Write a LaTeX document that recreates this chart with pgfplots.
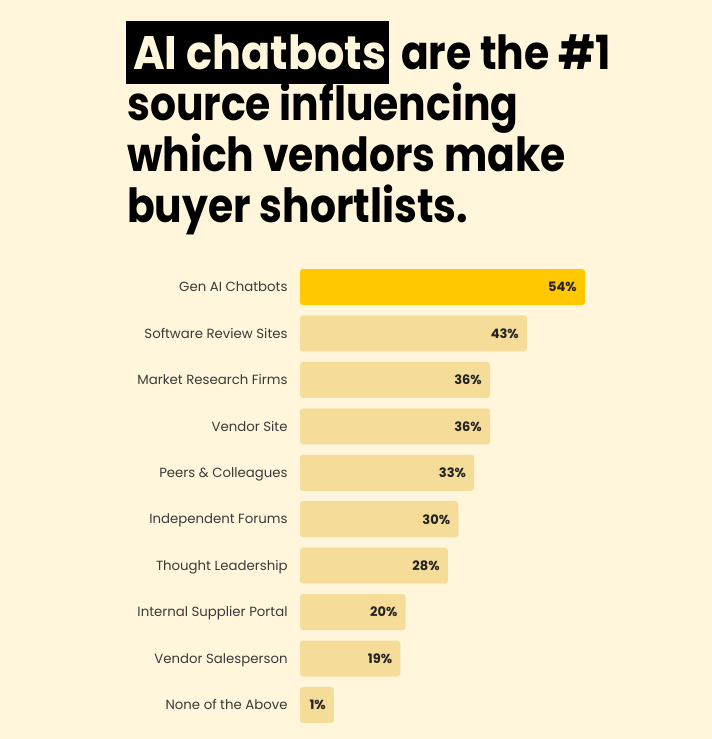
\documentclass[border=0pt]{standalone}
\usepackage{pgfplots}
\pgfplotsset{compat=1.18}
\usepackage{pgfplotstable}
\usepackage{fontspec}
\setmainfont{Poppins}
\newfontfamily\titlefont{Poppins}[FakeStretch=0.87]
\newfontfamily\hlfont{Poppins}[FakeStretch=0.915]
\definecolor{bg}{HTML}{FFF6DB}
\definecolor{gold}{HTML}{FFC800}
\definecolor{pale}{HTML}{F5DC98}
\definecolor{labelgray}{HTML}{3A3A3A}
\definecolor{valtext}{HTML}{222222}
\pgfplotstableread{
y len val
0 54 54
}\tabA
\pgfplotstableread{
y len val
1 43 43
2 36 36
3 36 36
4 33 33
5 30 30
6 28 28
7 20 20
8 19 19
9 6.44 1
}\tabB
\begin{document}
\begin{tikzpicture}
\useasboundingbox (0,0) rectangle (712pt,739pt);
\fill[bg] (0,0) rectangle (712pt,739pt);
% title
\fill[black] (126pt,655pt) rectangle (389pt,718pt);
\node[anchor=base west, inner sep=0pt, text=bg, font=\hlfont\bfseries\fontsize{47}{51}\selectfont] at (133pt,669pt) {AI chatbots};
\node[anchor=base west, inner sep=0pt, font=\titlefont\bfseries\fontsize{47}{51}\selectfont] at (401pt,669pt) {are the \#1};
\node[anchor=base west, inner sep=0pt, font=\titlefont\bfseries\fontsize{47}{51}\selectfont] at (127pt,618pt) {source influencing};
\node[anchor=base west, inner sep=0pt, font=\titlefont\bfseries\fontsize{47}{51}\selectfont] at (127pt,567pt) {which vendors make};
\node[anchor=base west, inner sep=0pt, font=\titlefont\bfseries\fontsize{47}{51}\selectfont] at (127pt,516pt) {buyer shortlists.};
\begin{axis}[
  at={(300pt,475.2pt)}, anchor=north west,
  scale only axis, width=285pt, height=464.4pt,
  xmin=0, xmax=54, ymin=-0.5, ymax=9.5, y dir=reverse,
  xbar, bar width=36pt, bar shift=0pt,
  axis line style={draw=none}, tick style={draw=none},
  xtick=\empty, ytick={0,...,9},
  yticklabels={Gen AI Chatbots, Software Review Sites, Market Research Firms, Vendor Site, Peers \& Colleagues, Independent Forums, Thought Leadership, Internal Supplier Portal, Vendor Salesperson, None of the Above},
  typeset ticklabels with strut,
  yticklabel style={font=\fontsize{13.3}{16}\selectfont, text=labelgray, inner xsep=0pt, xshift=-8pt, yshift=-1.5pt},
  clip=false,
  /pgf/number format/assume math mode=true,
  point meta=explicit,
  nodes near coords={\pgfmathprintnumber{\pgfplotspointmeta}\%},
  nodes near coords style={anchor=east, xshift=-8pt, inner xsep=0pt, font=\bfseries\fontsize{13}{15}\selectfont, text=valtext},
]
\addplot[fill=gold, draw=none, rounded corners=3pt] table[x=len, y=y, meta=val] {\tabA};
\addplot[fill=pale, draw=none, rounded corners=3pt] table[x=len, y=y, meta=val] {\tabB};
\end{axis}
\end{tikzpicture}
\end{document}
